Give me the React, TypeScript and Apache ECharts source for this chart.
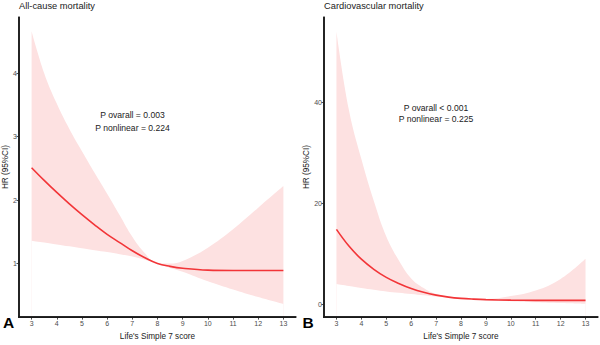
import React, { useEffect, useRef } from "react";
import * as echarts from "echarts";

// Life's Simple 7 score grid used by both spline curves
const scores = [3, 3.5, 4, 4.5, 5, 5.5, 6, 6.5, 7, 7.5, 8, 8.5, 9, 10, 11, 12, 13];

// All-cause mortality: hazard ratio and 95% CI
const allCauseHR = [2.51, 2.31, 2.12, 1.94, 1.77, 1.61, 1.46, 1.33, 1.2, 1.09, 1.0, 0.955, 0.925, 0.895, 0.89, 0.89, 0.89];
const allCauseLower = [1.36, 1.33, 1.3, 1.27, 1.24, 1.21, 1.18, 1.145, 1.11, 1.06, 1.0, 0.93, 0.87, 0.72, 0.59, 0.47, 0.36];
const allCauseUpper = [4.66, 4.0, 3.52, 3.12, 2.77, 2.43, 2.1, 1.76, 1.42, 1.16, 1.0, 1.0, 1.04, 1.25, 1.54, 1.88, 2.22];

// Cardiovascular mortality: hazard ratio and 95% CI
const cvdHR = [14.9, 11.6, 9.0, 7.0, 5.4, 4.2, 3.2, 2.45, 1.9, 1.5, 1.25, 1.1, 1.0, 0.9, 0.86, 0.85, 0.85];
const cvdLower = [4.1, 3.7, 3.3, 2.95, 2.6, 2.35, 2.1, 1.85, 1.6, 1.4, 1.2, 1.05, 0.9, 0.7, 0.5, 0.35, 0.2];
const cvdUpper = [54, 38.5, 28.8, 20.5, 13.5, 8.8, 5.2, 3.3, 2.1, 1.6, 1.3, 1.2, 1.15, 1.7, 2.8, 5.1, 9.1];

// Tick labels
const xTicks = [3, 4, 5, 6, 7, 8, 9, 10, 11, 12, 13];
const allCauseYTicks = [1, 2, 3, 4];
const cvdYTicks = [0, 20, 40];

// Axis extents (ggplot-style 5% padding)
const xRange = [2.5, 13.5];
const allCauseYRange = [0.155, 4.885];
const cvdYRange = [-2.45, 56.9];

const panelTitles = ["All-cause mortality", "Cardiovascular mortality"];
const panelLetters = ["A", "B"];
const pValueLines = [
  ["P ovarall = 0.003", "P nonlinear = 0.224"],
  ["P ovarall < 0.001", "P nonlinear = 0.225"],
];

const FONT = "'Liberation Sans', Arial, Helvetica, sans-serif";
const LINE_RED = "#f23538";
const BAND_PINK = "#fde1e1";
const AXIS_DARK = "#1a1a1a";
const TICK_GREY = "#4d4d4d";

const pairs = (xs: number[], ys: number[]) => xs.map((x, i) => [x, ys[i]]);

function xAxisFor(gridIndex: number) {
  return {
    type: "value",
    gridIndex,
    position: "bottom",
    min: xRange[0],
    max: xRange[1],
    z: 20,
    name: "Life's Simple 7 score",
    nameLocation: "middle",
    nameGap: 13,
    nameTextStyle: { fontSize: 8.2, color: "#222", fontFamily: FONT },
    axisLine: { show: true, onZero: false, lineStyle: { color: AXIS_DARK, width: 1.5, opacity: 1 } },
    axisTick: { show: true, length: 2.5, customValues: xTicks, lineStyle: { color: TICK_GREY, width: 1 } },
    axisLabel: { fontSize: 7, color: TICK_GREY, margin: 3, customValues: xTicks, fontFamily: FONT },
    splitLine: { show: false },
  };
}

function yAxisFor(gridIndex: number, range: number[], ticks: number[]) {
  return {
    type: "value",
    gridIndex,
    position: "left",
    min: range[0],
    max: range[1],
    z: 20,
    name: "HR (95%CI)",
    nameLocation: "middle",
    nameGap: 9,
    nameTextStyle: { fontSize: 8.2, color: "#222", fontFamily: FONT },
    axisLine: { show: true, onZero: false, lineStyle: { color: AXIS_DARK, width: 1.5, opacity: 1 } },
    axisTick: { show: true, length: 2.5, customValues: ticks, lineStyle: { color: TICK_GREY, width: 1 } },
    axisLabel: { fontSize: 7, color: TICK_GREY, margin: 2, customValues: ticks, fontFamily: FONT },
    splitLine: { show: false },
  };
}

// Confidence band = pink area under the upper bound, masked in white under the lower bound,
// then the hazard-ratio curve on top.
function panelSeries(idx: number, hr: number[], lower: number[], upper: number[]) {
  const common = {
    type: "line",
    xAxisIndex: idx,
    yAxisIndex: idx,
    showSymbol: false,
    symbol: "none",
    smooth: 0.4,
    silent: true,
    z: 1,
  };
  return [
    {
      ...common,
      name: `upper-${idx}`,
      data: pairs(scores, upper),
      lineStyle: { opacity: 0 },
      areaStyle: { color: BAND_PINK, opacity: 1, origin: "start" },
    },
    {
      ...common,
      name: `lower-${idx}`,
      data: pairs(scores, lower),
      lineStyle: { opacity: 0 },
      areaStyle: { color: "#ffffff", opacity: 1, origin: "start" },
    },
    {
      ...common,
      name: `hr-${idx}`,
      data: pairs(scores, hr),
      lineStyle: { color: LINE_RED, width: 1.6 },
    },
  ];
}

export default function App() {
  const ref = useRef<HTMLDivElement>(null);

  useEffect(() => {
    if (!ref.current) return;
    const chart = echarts.init(ref.current, undefined, { renderer: "svg" });

    const titleLeft = [19, 324];
    const letterX = [8.7, 308];
    const pCenters = [
      [132.5, 115, 127.7],
      [436, 107.7, 119.3],
    ];

    chart.setOption({
      animation: false,
      backgroundColor: "#ffffff",
      textStyle: { fontFamily: FONT },
      title: panelTitles.map((t, i) => ({
        text: t,
        left: titleLeft[i],
        top: 1,
        padding: 0,
        textStyle: { fontSize: 9.3, fontWeight: "normal", color: "#222", fontFamily: FONT },
      })),
      grid: [
        { left: 19, top: 17, width: 277, height: 306, containLabel: false, show: false },
        { left: 324, top: 17, width: 274, height: 306, containLabel: false, show: false },
      ],
      xAxis: [xAxisFor(0), xAxisFor(1)],
      yAxis: [yAxisFor(0, allCauseYRange, allCauseYTicks), yAxisFor(1, cvdYRange, cvdYTicks)],
      series: [
        ...panelSeries(0, allCauseHR, allCauseLower, allCauseUpper),
        ...panelSeries(1, cvdHR, cvdLower, cvdUpper),
      ],
    });

    const graphics: any[] = [];

    // Axis frame of each panel as filled bars, placed through the grid's coordinate mapping
    const yRanges = [allCauseYRange, cvdYRange];
    const barW = 1.6;
    yRanges.forEach((yr, i) => {
      const origin = chart.convertToPixel({ gridIndex: i }, [xRange[0], yr[0]]) as number[];
      const xEnd = chart.convertToPixel({ gridIndex: i }, [xRange[1], yr[0]]) as number[];
      const yEnd = chart.convertToPixel({ gridIndex: i }, [xRange[0], yr[1]]) as number[];
      const ox = origin[0];
      const oy = origin[1];
      graphics.push({
        type: "rect",
        z: 100,
        silent: true,
        shape: { x: ox - barW / 2, y: yEnd[1], width: barW, height: oy - yEnd[1] + barW / 2 },
        style: { fill: AXIS_DARK, opacity: 1 },
      });
      graphics.push({
        type: "rect",
        z: 100,
        silent: true,
        shape: { x: ox - barW / 2, y: oy - barW / 2, width: xEnd[0] - ox + barW / 2, height: barW },
        style: { fill: AXIS_DARK, opacity: 1 },
      });
    });

    panelLetters.forEach((letter, i) => {
      graphics.push({
        type: "text",
        x: letterX[i],
        y: 322.5,
        z: 100,
        style: {
          text: letter,
          fontSize: 15.5,
          fontWeight: "bold",
          fontFamily: FONT,
          fill: "#000",
          align: "center",
          verticalAlign: "middle",
        },
      });
      pValueLines[i].forEach((line, j) => {
        graphics.push({
          type: "text",
          x: pCenters[i][0],
          y: pCenters[i][1 + j],
          z: 100,
          style: {
            text: line,
            fontSize: 8.6,
            fontFamily: FONT,
            fill: "#222",
            align: "center",
            verticalAlign: "middle",
          },
        });
      });
    });

    chart.setOption({ graphic: graphics });

    return () => chart.dispose();
  }, []);

  return (
    <div
      ref={ref}
      style={{ position: "fixed", left: 0, top: 0, width: 600, height: 345, background: "#fff" }}
    />
  );
}
